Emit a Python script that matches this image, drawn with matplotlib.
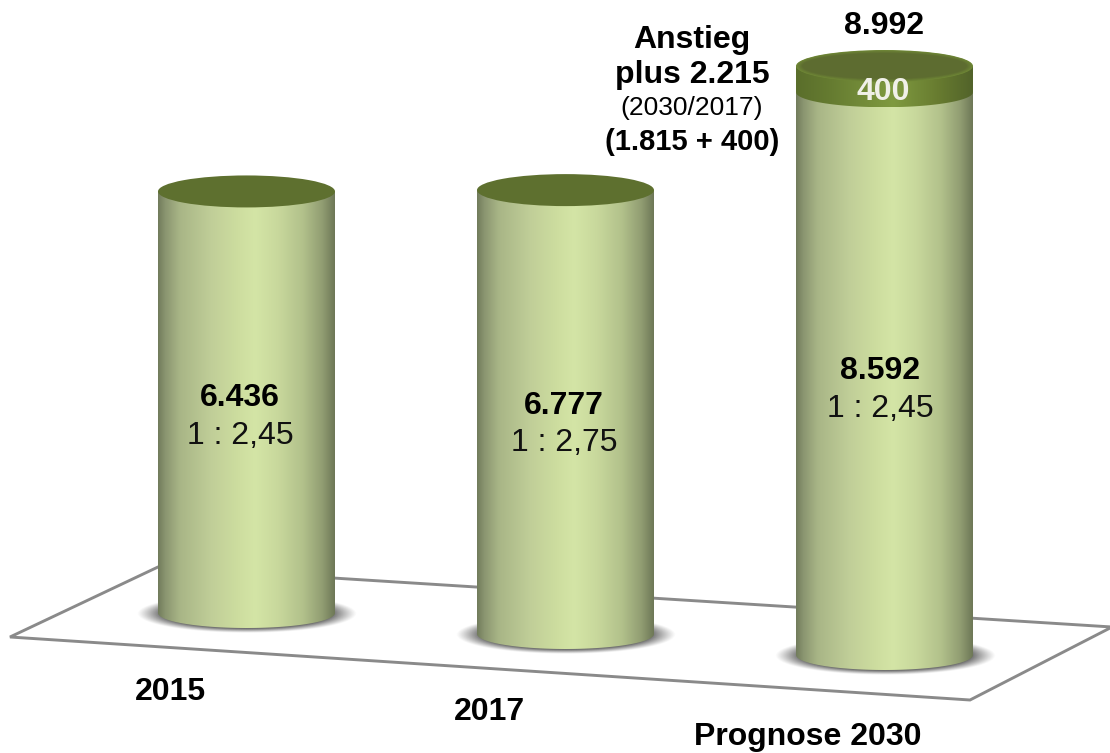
import numpy as np
import matplotlib
matplotlib.use("Agg")
import matplotlib.pyplot as plt
from matplotlib.colors import LinearSegmentedColormap, to_rgb
from matplotlib.patches import Ellipse, Polygon

plt.rcParams['font.family'] = ['Liberation Sans', 'DejaVu Sans']

# data
years = ['2015', '2017', 'Prognose 2030']
values = [6436, 6777, 8592]
extra = [0, 0, 400]
value_labels = ['6.436', '6.777', '8.592']
ratios = ['1 : 2,45', '1 : 2,75', '1 : 2,45']
total_label = '8.992'
extra_label = '400'
note_lines = ['Anstieg', 'plus 2.215', '(2030/2017)', '(1.815 + 400)']

W, H = 1110, 753
PX_PER_UNIT = 0.0655   # pixels per value unit
SPACING = 319          # pixels between cylinders
X0 = 246.5             # pixel x of first cylinder


def tx(px):
    return (px - X0) / SPACING


def ty(py):
    return (H - py) / PX_PER_UNIT


fig = plt.figure(figsize=(W / 100, H / 100), dpi=100)
ax = fig.add_axes([0, 0, 1, 1])
xlim = (tx(0), tx(W))
ylim = (ty(H), ty(0))

body_cmap = LinearSegmentedColormap.from_list('body', [
    (0.00, '#727c5c'), (0.04, '#8a9570'), (0.12, '#a8b586'), (0.30, '#c0ce98'),
    (0.45, '#cddd9f'), (0.55, '#d4e5a6'), (0.68, '#c8d89c'), (0.82, '#b2c18b'),
    (0.93, '#919d72'), (1.00, '#6e7857')])
cap_cmap = LinearSegmentedColormap.from_list('cap', [
    (0.00, '#5a6e2b'), (0.20, '#667c31'), (0.55, '#7f9a40'),
    (0.80, '#687c30'), (1.00, '#52632a')])

half_w = 88.5 / SPACING
ell_h = 15 / PX_PER_UNIT
gradient = np.linspace(0, 1, 256).reshape(1, -1)

# soft shadow under a cylinder
gx, gy = np.meshgrid(np.linspace(-1, 1, 300), np.linspace(-1, 1, 120))
rr = np.sqrt(gx ** 2 + gy ** 2)
shadow = np.zeros((120, 300, 4))
shadow[..., :3] = 0.40
shadow[..., 3] = np.clip((1 - rr) / 0.22, 0, 1) ** 1.1 * 0.95


def cylinder_side(i, y0, y1, cmap, z):
    t = np.linspace(np.pi, 2 * np.pi, 80)
    xs = i + half_w * np.cos(t)
    ys = y0 + ell_h * np.sin(t)
    pts = np.column_stack([np.r_[xs, i + half_w, i - half_w], np.r_[ys, y1, y1]])
    clip = Polygon(pts, closed=True, transform=ax.transData, fc='none', ec='none')
    ax.add_patch(clip)
    im = ax.imshow(gradient, cmap=cmap, aspect='auto', zorder=z,
                   extent=(i - half_w, i + half_w, y0 - ell_h, y1))
    im.set_clip_path(clip)


# floor
floor_x = [10, 158, 1112, 970]
floor_y = [637, 567, 627, 700]
ax.add_patch(Polygon(np.column_stack([tx(np.array(floor_x)), ty(np.array(floor_y))]),
                     closed=True, fc='white', ec='#8a8a8a', lw=2.1, zorder=1))

for i, v in enumerate(values):
    base = ty(613 + 21 * i)
    top = base + v
    ax.imshow(shadow, aspect='auto', zorder=2,
              extent=(i - 110 / SPACING, i + 110 / SPACING,
                      base - 20 / PX_PER_UNIT, base + 19 / PX_PER_UNIT))
    cylinder_side(i, base, top, body_cmap, 3)
    if extra[i]:
        cylinder_side(i, top, top + extra[i], cap_cmap, 4)
        end = top + extra[i]
        # bevel, fading from the rim to the flat top
        rim = np.array(to_rgb('#6f8736'))
        flat = np.array(to_rgb('#5d6c30'))
        steps = 8
        for k in range(steps):
            f = k / (steps - 1)
            ax.add_patch(Ellipse((i, end), 2 * half_w * (1 - 0.07 * f),
                                 (2 * ell_h + 2 / PX_PER_UNIT) * (1 - 0.2 * f),
                                 fc=rim + (flat - rim) * f, ec='none', zorder=5 + k * 0.01))
    else:
        ax.add_patch(Ellipse((i, top), 2 * half_w, 2 * ell_h + 2 / PX_PER_UNIT,
                             fc='#5e702f', ec='none', zorder=5))

ax.set_xlim(xlim)
ax.set_ylim(ylim)
ax.axis('off')

# text
label_cx = [240, 564, 880]
label_cy = [398, 406, 371]
ratio_cy = [436, 443, 409]
year_cx = [170, 489, 808]
year_cy = [692, 712, 737]
for i in range(3):
    ax.text(tx(label_cx[i]), ty(label_cy[i]), value_labels[i], fontsize=23, fontweight='bold',
            ha='center', va='center', color='black', zorder=10)
    ax.text(tx(label_cx[i]), ty(ratio_cy[i]), ratios[i], fontsize=23,
            ha='center', va='center', color='#111111', zorder=10)
    ax.text(tx(year_cx[i]), ty(year_cy[i]), years[i], fontsize=23, fontweight='bold',
            ha='center', va='center', color='black', zorder=10)

ax.text(tx(884), ty(26), total_label, fontsize=23, fontweight='bold', ha='center', va='center', zorder=10)
ax.text(tx(883), ty(92), extra_label, fontsize=23, fontweight='bold', ha='center', va='center',
        color='#f0f0e8', zorder=10)

note_cy = [40, 75, 108, 142]
note_size = [23, 23, 19, 21]
note_weight = ['bold', 'bold', 'normal', 'bold']
for line, cy, fs, wt in zip(note_lines, note_cy, note_size, note_weight):
    ax.text(tx(692), ty(cy), line, fontsize=fs, fontweight=wt, ha='center', va='center', zorder=10)

fig.savefig('out.png', dpi=100)
